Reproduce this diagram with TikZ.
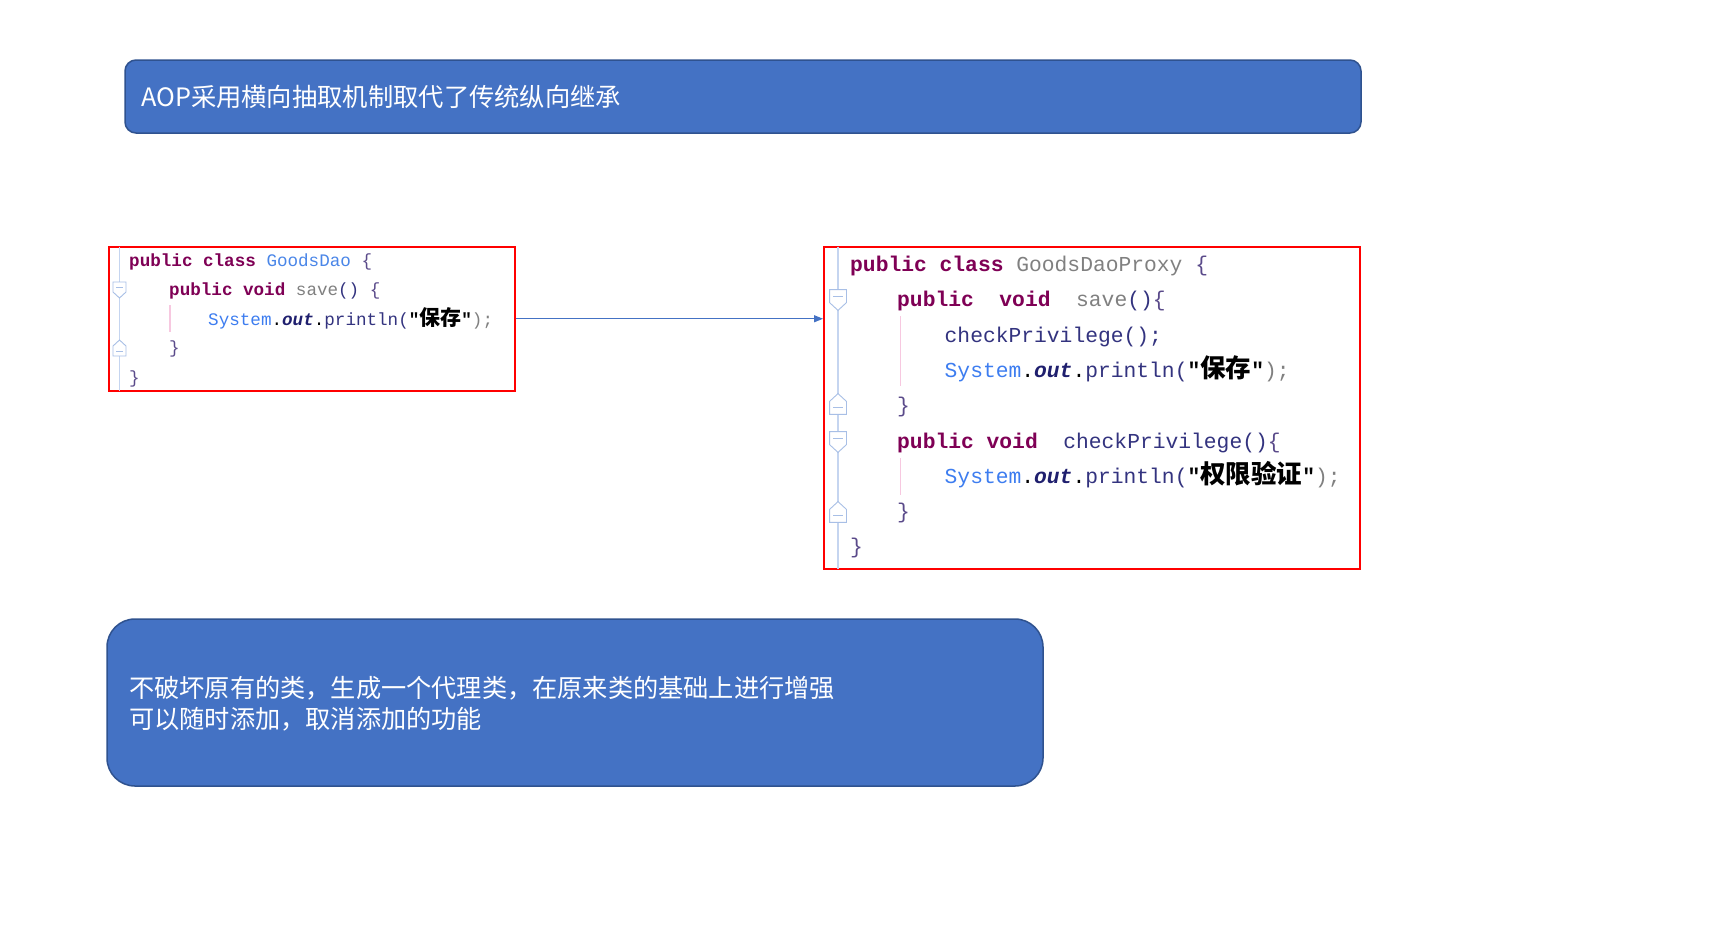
\documentclass[tikz,border=0pt]{standalone}
\usepackage{fontspec}
\setmonofont{Liberation Mono}
\newfontfamily\cjk{Noto Sans CJK SC}
\usetikzlibrary{arrows.meta}
\definecolor{boxblue}{HTML}{4472C4}
\definecolor{boxedge}{HTML}{2F528F}
\definecolor{codered}{HTML}{FF0000}
\definecolor{kwc}{HTML}{7F0055}
\definecolor{clsc}{HTML}{4A86E8}
\definecolor{brc}{HTML}{5A4A8A}
\definecolor{grayc}{HTML}{808080}
\definecolor{sysc}{HTML}{3D7DF0}
\definecolor{outc}{HTML}{1F1F6E}
\definecolor{prc}{HTML}{33337F}
\definecolor{gutc}{HTML}{C5D5F0}
\definecolor{foldc}{HTML}{A8BFE6}
\definecolor{pinkc}{HTML}{F7C8E0}
\newcommand\cKw[1]{\textcolor{kwc}{\bfseries #1}}
\newcommand\cBr[1]{\textcolor{brc}{#1}}
\newcommand\cGr[1]{\textcolor{grayc}{#1}}
\newcommand\cPr[1]{\textcolor{prc}{#1}}
\newcommand\cSys{\textcolor{sysc}{System}.\textcolor{outc}{\bfseries\itshape out}.}
\begin{document}
\begin{tikzpicture}[x=1pt,y=-1pt,
  bluebox/.style={draw=boxedge, fill=boxblue, line width=1.5pt, inner sep=0pt},
  codebox/.style={draw=codered, line width=2pt, inner sep=0pt},
  codeS/.style={anchor=base west, inner sep=0pt, font=\ttfamily\fontsize{17.6}{20}\selectfont},
  codeL/.style={anchor=base west, inner sep=0pt, font=\ttfamily\fontsize{21.3}{24}\selectfont},
  gutter/.style={draw=gutc, line width=1.3pt},
  guide/.style={draw=pinkc, line width=1.3pt},
  flow/.style={draw=boxblue, line width=1.2pt, -{Triangle[length=9pt,width=7pt]}},
  folddown/.pic={\draw[foldc, line width=0.9pt, fill=white] (-6.5,-8) -- (6.5,-8) -- (6.5,2) -- (0,8) -- (-6.5,2) -- cycle;
                 \draw[foldc, line width=0.9pt] (-3.5,-3) -- (3.5,-3);},
  foldup/.pic={\draw[foldc, line width=0.9pt, fill=white] (-6.5,8) -- (6.5,8) -- (6.5,-2) -- (0,-8) -- (-6.5,-2) -- cycle;
               \draw[foldc, line width=0.9pt] (-3.5,3) -- (3.5,3);}
]
\useasboundingbox[fill=white] (0,0) rectangle (1718,948);

% top banner
\node[bluebox, rounded corners=11pt, minimum width=1236pt, minimum height=73pt] (top) at (743,96.5) {};
\node[anchor=west, inner sep=0pt, text=white, font=\cjk\fontsize{25.3}{30}\selectfont] (toptext) at (141,97) {AOP采用横向抽取机制取代了传统纵向继承};

% bottom banner
\node[bluebox, rounded corners=28pt, minimum width=936pt, minimum height=167pt] (bottom) at (575,702.5) {};
\node[anchor=west, inner sep=0pt, text=white, align=left, font=\cjk\fontsize{25.2}{31}\selectfont] (bottomtext) at (129,703.5)
  {不破坏原有的类，生成一个代理类，在原来类的基础上进行增强\\可以随时添加，取消添加的功能};

% left code box
\node[codebox, minimum width=406.5pt, minimum height=144.5pt] (left) at (311.75,318.75) {};
\draw[gutter] (119.5,246.5) -- (119.5,391);
\draw[guide] (170,305) -- (170,332);
\pic at (119.5,290) {folddown};
\pic at (119.5,348) {foldup};
\node[codeS] (l1) at (129,266) {\cKw{public class} \textcolor{clsc}{GoodsDao} \cBr{\{}};
\node[codeS] (l2) at (169,295) {\cKw{public void} \cGr{save}\cPr{()} \cBr{\{}};
\node[codeS] (l3) at (208,325) {\cSys\cPr{println(}{\bfseries"}{\cjk\bfseries\fontsize{21}{21}\selectfont 保存}{\bfseries"}\cGr{);}};
\node[codeS] (l4) at (169,353) {\cBr{\}}};
\node[codeS] (l5) at (129,383) {\cBr{\}}};

% right code box
\node[codebox, minimum width=536pt, minimum height=322pt] (right) at (1092,407.5) {};
\draw[gutter] (838,246.5) -- (838,568.6);
\draw[guide] (900.5,316) -- (900.5,386);
\draw[guide] (900.5,458) -- (900.5,495);
\pic[scale=1.3] at (838,300) {folddown};
\pic[scale=1.3] at (838,404) {foldup};
\pic[scale=1.3] at (838,442) {folddown};
\pic[scale=1.3] at (838,512) {foldup};
\node[codeL] (r1) at (850,271) {\cKw{public class} \cGr{GoodsDaoProxy} \cBr{\{}};
\node[codeL] (r2) at (897,306) {\cKw{public\ \ void}\ \ \cGr{save}\cPr{()}\cBr{\{}};
\node[codeL] (r3) at (944.5,342) {\cPr{checkPrivilege();}};
\node[codeL] (r4) at (944.5,377) {\cSys\cPr{println(}{\bfseries"}{\cjk\bfseries\fontsize{25.5}{25.5}\selectfont 保存}{\bfseries"}\cGr{);}};
\node[codeL] (r5) at (897,412) {\cBr{\}}};
\node[codeL] (r6) at (897,448.5) {\cKw{public void}\ \ \cPr{checkPrivilege()}\cBr{\{}};
\node[codeL] (r7) at (944.5,483.6) {\cSys\cPr{println(}{\bfseries"}{\cjk\bfseries\fontsize{25.5}{25.5}\selectfont 权限验证}{\bfseries"}\cGr{);}};
\node[codeL] (r8) at (897,518.7) {\cBr{\}}};
\node[codeL] (r9) at (850,553.8) {\cBr{\}}};

% connector
\draw[flow] (left.east) -- (left.east -| right.west);
\end{tikzpicture}
\end{document}
